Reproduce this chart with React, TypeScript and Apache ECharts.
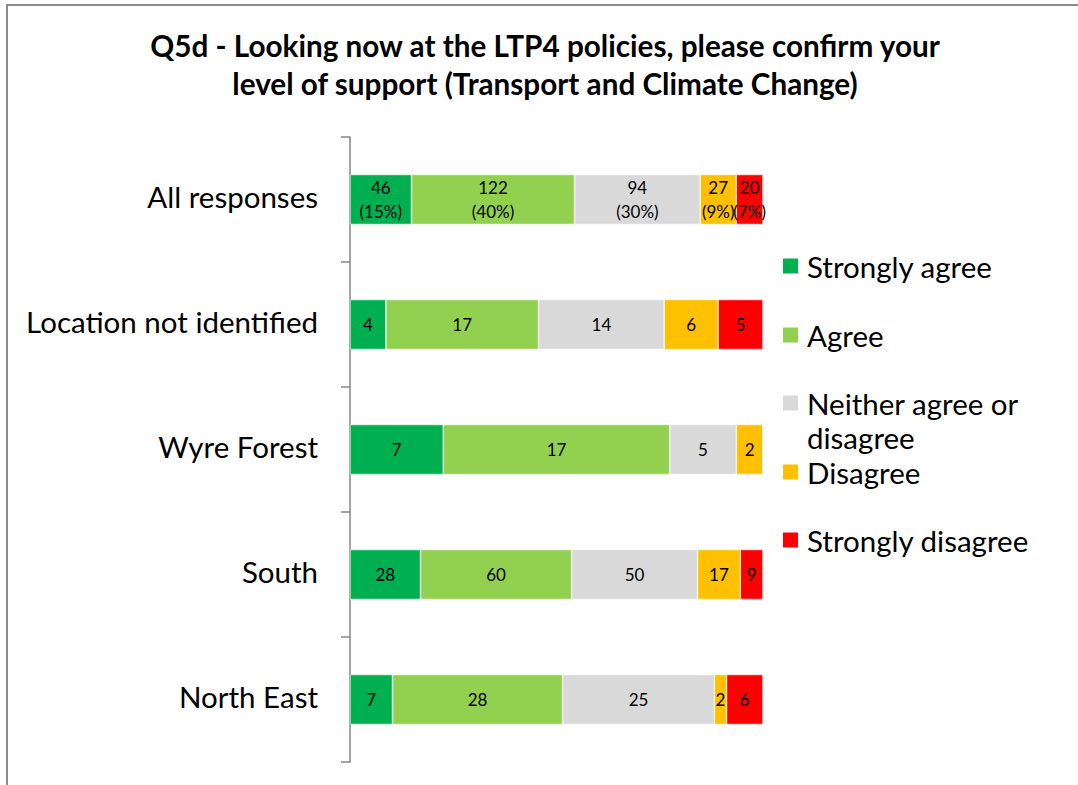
import React, { useEffect, useRef } from "react";
import * as echarts from "echarts";

const categories = ["All responses", "Location not identified", "Wyre Forest", "South", "North East"];
const seriesNames = ["Strongly agree", "Agree", "Neither agree or disagree", "Disagree", "Strongly disagree"];
const stronglyAgree = [46, 4, 7, 28, 7];
const agree = [122, 17, 17, 60, 28];
const neither = [94, 14, 5, 50, 25];
const disagree = [27, 6, 2, 17, 2];
const stronglyDisagree = [20, 5, 0, 9, 6];
const allResponsesPct = [15, 40, 30, 9, 7];
const colors = ["#00B050", "#92D050", "#D9D9D9", "#FFC000", "#FF0000"];
const legendCenters = [268, 337, 405, 474, 542];

const FONT = "Lato";

export default function App() {
  const ref = useRef<HTMLDivElement>(null);
  useEffect(() => {
    if (!ref.current) return;
    const chart = echarts.init(ref.current, null, { renderer: "svg" });
    const all = [stronglyAgree, agree, neither, disagree, stronglyDisagree];
    const totals = categories.map((_, i) => all.reduce((s, arr) => s + arr[i], 0));

    const series = all.map((arr, si) => ({
      type: "bar",
      name: seriesNames[si],
      stack: "total",
      barWidth: 50,
      itemStyle: { color: colors[si], borderColor: "#ffffff", borderWidth: 0.6 },
      label: {
        show: true,
        position: "inside",
        color: "#000",
        fontSize: 17,
        fontFamily: FONT,
        lineHeight: 24,
        formatter: (p: any) => {
          const raw = arr[p.dataIndex];
          if (!raw) return "";
          if (p.dataIndex === 0) return `${raw}\n(${allResponsesPct[si]}%)`;
          return `${raw}`;
        },
      },
      data: arr.map((v, i) => (v / totals[i]) * 100),
    }));

    const legends = seriesNames.map((name, si) => {
      const isWrap = si === 2;
      return {
        data: [name],
        orient: "vertical",
        left: 781,
        top: isWrap ? legendCenters[si] - 51 - 2 : legendCenters[si] - 17 - 2,
        padding: 0,
        itemWidth: 17,
        itemHeight: 17,
        icon: "rect",
        selectedMode: false,
        formatter: isWrap ? "\nNeither agree or\ndisagree" : "{name}",
        textStyle: {
          fontSize: 29.5,
          fontFamily: FONT,
          color: "#000",
          lineHeight: 34,
          padding: [0, 0, 0, 3],
        },
      };
    });

    chart.setOption({
      animation: false,
      title: {
        text: "Q5d - Looking now at the LTP4 policies, please confirm your\nlevel of support (Transport and Climate Change)",
        left: 545,
        textAlign: "center",
        top: 26,
        padding: 0,
        textStyle: {
          fontSize: 29.7,
          fontWeight: "bold",
          fontFamily: FONT,
          color: "#000",
          lineHeight: 38,
        },
      },
      legend: legends,
      grid: { left: 350, right: 315, top: 137, bottom: 23, containLabel: false },
      xAxis: { type: "value", min: 0, max: 100, show: false },
      yAxis: {
        type: "category",
        inverse: true,
        data: categories,
        axisLine: { show: true, lineStyle: { color: "#868686", width: 1.5 } },
        axisTick: { show: true, inside: false, length: 9, lineStyle: { color: "#868686", width: 1.5 } },
        axisLabel: {
          color: "#000",
          margin: 32,
          formatter: "{a|{value}}",
          rich: {
            a: {
              fontSize: 29.5,
              color: "#000",
              fontFamily: FONT,
              padding: [0, 0, 6, 0],
            },
          },
        },
      },
      graphic: [
        {
          type: "rect",
          shape: { x: 7, y: 5, width: 1300, height: 1000 },
          style: { fill: "none", stroke: "#8c8c8c", lineWidth: 2 },
          silent: true,
        },
      ],
      series,
    });
    return () => chart.dispose();
  }, []);
  return (
    <div
      ref={ref}
      style={{ position: "absolute", left: 0, top: 0, width: 1078, height: 785, background: "#fff" }}
    />
  );
}
